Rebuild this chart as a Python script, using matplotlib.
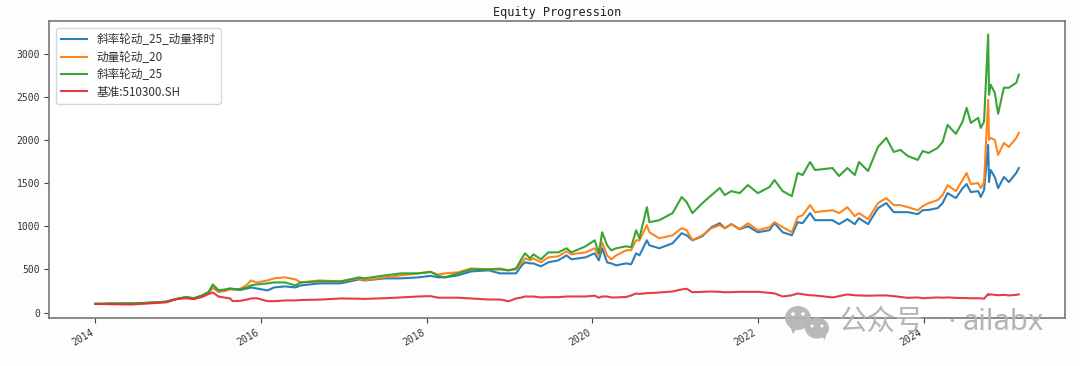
import matplotlib
matplotlib.use("Agg")
import matplotlib.pyplot as plt
from matplotlib.patches import Ellipse, Polygon

plt.rcParams['font.family'] = ['Noto Sans CJK SC', 'DejaVu Sans']
plt.rcParams['axes.unicode_minus'] = False

title = "Equity Progression"
names = ["斜率轮动_25_动量择时", "动量轮动_20", "斜率轮动_25", "基准:510300.SH"]
colors = ["#1f77b4", "#ff7f0e", "#2ca02c", "#e3323a"]
tick_years = [2014, 2016, 2018, 2020, 2022, 2024]
y_ticks = [0, 500, 1000, 1500, 2000, 2500, 3000]

years = [2014.00,2014.19,2014.44,2014.62,2014.86,2014.95,2015.02,2015.10,2015.19,2015.29,2015.37,2015.42,
         2015.49,2015.57,2015.63,2015.66,2015.75,2015.83,2015.88,2015.95,2016.08,2016.16,2016.29,2016.42,
         2016.48,2016.71,2016.96,2017.19,2017.25,2017.50,2017.69,2017.90,2018.05,2018.14,2018.22,2018.38,
         2018.54,2018.75,2018.89,2018.99,2019.08,2019.15,2019.19,2019.25,2019.29,2019.38,2019.47,2019.59,
         2019.69,2019.75,2019.92,2020.03,2020.08,2020.12,2020.18,2020.23,2020.29,2020.41,2020.47,2020.53,
         2020.57,2020.66,2020.69,2020.81,2020.97,2021.08,2021.14,2021.21,2021.33,2021.44,2021.54,2021.60,
         2021.68,2021.78,2021.88,2022.00,2022.14,2022.20,2022.30,2022.41,2022.48,2022.54,2022.63,2022.69,
         2022.90,2022.98,2023.08,2023.17,2023.22,2023.33,2023.45,2023.55,2023.64,2023.72,2023.81,2023.93,
         2023.99,2024.06,2024.17,2024.23,2024.29,2024.39,2024.47,2024.52,2024.57,2024.66,2024.69,2024.73,
         2024.78,2024.79,2024.81,2024.86,2024.90,2024.97,2025.03,2025.12,2025.15]

blue = [100,101,103,110,125,150,165,178,163,195,232,290,
        240,258,275,270,262,278,291,279,256,291,303,291,
        314,338,338,384,372,396,396,408,425,408,408,431,
        477,489,454,454,454,547,582,570,570,535,582,605,
        663,617,640,687,605,745,582,570,547,570,559,687,
        663,838,780,745,803,920,896,838,885,990,1036,978,
        1025,966,1001,931,955,1036,931,896,1048,1036,1153,1071,
        1071,1025,1083,1025,1094,1025,1211,1269,1164,1164,1164,1141,
        1187,1190,1211,1269,1385,1327,1440,1490,1397,1408,1339,1420,
        1944,1513,1653,1572,1443,1572,1513,1620,1676]

orange = [100,101,103,110,125,150,165,178,163,195,232,295,
          245,250,270,268,275,320,372,349,372,396,408,384,
          349,372,361,396,372,408,431,454,470,440,454,466,
          512,500,512,489,500,582,628,605,628,582,640,652,
          710,675,698,745,663,815,663,617,663,722,722,838,
          838,1013,931,861,896,978,955,838,896,978,1013,978,
          1025,966,1036,955,990,1048,990,931,1106,1129,1246,1164,
          1187,1153,1222,1118,1153,1083,1269,1327,1246,1246,1222,1187,
          1234,1269,1304,1362,1478,1408,1537,1618,1490,1502,1443,1513,
          2468,2002,2026,2002,1828,1967,1921,2026,2084]

green = [100,106,106,113,126,150,165,178,166,198,240,326,
         258,268,280,275,268,290,314,326,338,349,349,314,
         349,361,361,408,396,431,454,454,472,425,408,454,
         500,500,500,489,512,628,687,628,675,617,698,698,
         745,698,768,838,687,931,780,722,745,768,757,955,
         861,1222,1048,1071,1153,1339,1281,1153,1269,1362,1444,1362,
         1408,1385,1478,1385,1455,1537,1408,1350,1618,1595,1746,1653,
         1676,1583,1676,1595,1746,1641,1921,2026,1863,1886,1816,1770,
         1874,1851,1909,1979,2177,2072,2212,2375,2200,2258,2142,2212,
         3225,2526,2643,2549,2305,2608,2608,2666,2759]

red = [100,96,93,104,118,148,160,165,155,180,215,233,
       185,172,163,132,135,150,163,166,132,131,140,140,
       145,150,163,160,158,166,175,186,190,172,172,172,
       163,151,151,130,163,175,186,185,186,175,178,178,
       186,186,186,195,172,186,186,175,175,180,198,221,
       215,225,225,232,244,268,275,235,240,244,240,235,
       236,240,240,240,228,222,186,200,221,212,200,198,
       175,190,210,200,198,195,198,198,190,180,170,175,
       165,170,175,172,175,170,168,168,165,165,165,160,
       215,205,210,205,200,205,198,205,210]

fig = plt.figure(figsize=(10.8, 3.66), dpi=100, facecolor="#fdfdfd")
ax = fig.add_axes([49/1080, 1-318/366, (1065-49)/1080, (318-21)/366])

for values, name, color in zip([blue, orange, green, red], names, colors):
    ax.plot(years, values, color=color, lw=1.5, label=name, alpha=0.95)

ax.set_xticks(tick_years)
ax.set_xticklabels([str(y) for y in tick_years], rotation=30, ha="right",
                   family="DejaVu Sans Mono", fontsize=7, color="#333333")
ax.set_yticks(y_ticks)
ax.set_yticklabels([str(y) for y in y_ticks], family="DejaVu Sans Mono", fontsize=7, color="#333333")
ax.tick_params(length=3.5, width=0.8, color="#444444", pad=3)
for s in ax.spines.values():
    s.set_color("#777777")
    s.set_linewidth(1.2)
ax.set_title(title, family="DejaVu Sans Mono", fontsize=8.6, pad=3.5, color="#222222")
ax.legend(loc="upper left", fontsize=8.4, handlelength=2.2, labelspacing=0.38,
          handletextpad=0.8, borderpad=0.45, borderaxespad=0.6,
          labelcolor="#333333")

# watermark
wm = "#b4b4b4"
W, H = 1080, 366
def bubble(cx, cy, rx, ry, tail):
    fig.add_artist(Ellipse((cx/W, 1-cy/H), 2*rx/W, 2*ry/H, transform=fig.transFigure,
                           fc=wm, ec="none", alpha=0.92, zorder=10))
    fig.add_artist(Polygon([(x/W, 1-y/H) for x, y in tail], transform=fig.transFigure,
                           fc=wm, ec="none", alpha=0.92, zorder=10))
bubble(798, 318, 13, 12, [(790, 326), (796, 330), (793, 334)])
bubble(817, 328, 12, 10.5, [(820, 335), (826, 335), (825, 340)])
for cx, cy, r in [(793, 314, 1.8), (803, 314, 1.8), (812, 326, 1.5), (822, 326, 1.5)]:
    fig.add_artist(Ellipse((cx/W, 1-cy/H), 2*r/W, 2*r/H, transform=fig.transFigure,
                           fc="white", ec="none", zorder=11))
fig.text(839/W, 1-322/H, "公众号", fontsize=20.5, color=wm, va="center", ha="left",
         fontweight="light", zorder=10)
fig.text(943/W, 1-322/H, "·", fontsize=12, color=wm, va="center", ha="left", zorder=10)
fig.text(963/W, 1-322/H, "ailabx", fontsize=21, color=wm, va="center", ha="left",
         family="Noto Sans", fontweight="light", zorder=10)

fig.savefig("out.png", dpi=100, facecolor=fig.get_facecolor())
